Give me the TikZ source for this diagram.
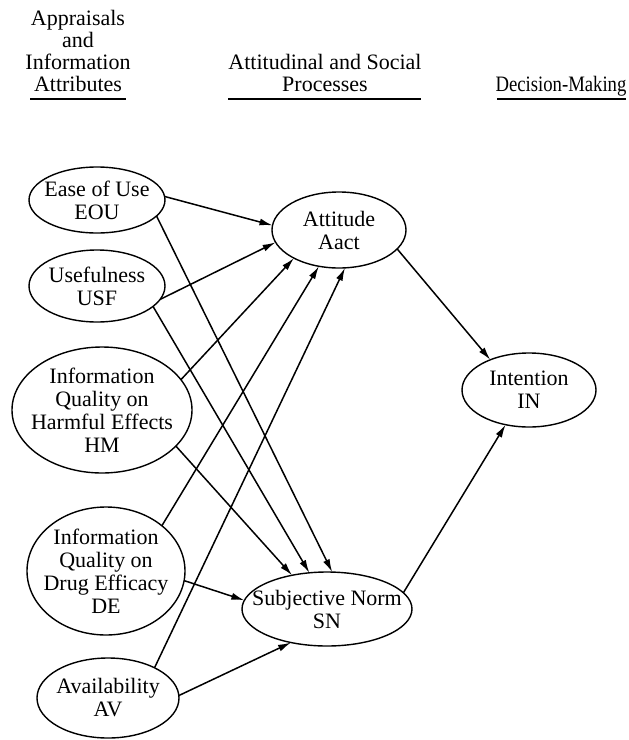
\documentclass[tikz,border=0pt]{standalone}
\usepackage{fontspec}
\setmainfont{Liberation Serif}
\usetikzlibrary{shapes.geometric,arrows.meta}
\begin{document}
\begin{tikzpicture}[x=1pt,y=-1pt,
  ell/.style={draw,ellipse,line width=1.4pt,inner sep=0pt,outer sep=0pt},
  lbl/.style={align=center,font=\fontsize{22}{23}\selectfont,inner sep=0pt},
  hdr/.style={align=center,font=\fontsize{22}{22}\selectfont,inner sep=0pt,anchor=south,text depth=5pt},
  arr/.style={line width=1.5pt,-{Latex[length=13pt,width=7pt]}},
  uline/.style={line width=1.3pt}]
\useasboundingbox (0,0) rectangle (629,740);

% headers
\node[hdr] (h1) at (78,97) {Appraisals\\and\\Information\\Attributes};
\node[hdr] (h2) at (325,97) {Attitudinal and Social\\Processes};
\node[hdr] (h3) at (561,97) {\scalebox{0.85}[1]{Decision-Making}};
\draw[uline] (30,99) -- (126,99);
\draw[uline] (228,99) -- (421,99);
\draw[uline] (497,99) -- (626,99);

% ellipses
\node[ell,minimum width=136pt,minimum height=66pt] (eou) at (97,200) {};
\node[lbl] (eout) at (eou) {Ease of Use\\EOU};
\node[ell,minimum width=136pt,minimum height=72pt] (usf) at (97,286) {};
\node[lbl] (usft) at (usf) {Usefulness\\USF};
\node[ell,minimum width=180pt,minimum height=126pt] (hm) at (102,410) {};
\node[lbl] (hmt) at (hm) {Information\\Quality on\\Harmful Effects\\HM};
\node[ell,minimum width=158pt,minimum height=128pt] (de) at (106,571) {};
\node[lbl] (det) at (de) {Information\\Quality on\\Drug Efficacy\\DE};
\node[ell,minimum width=142pt,minimum height=80pt] (av) at (108,698) {};
\node[lbl] (avt) at (av) {Availability\\AV};
\node[ell,minimum width=134pt,minimum height=76pt] (att) at (339,230) {};
\node[lbl] (attt) at (att) {Attitude\\Aact};
\node[ell,minimum width=170pt,minimum height=74pt] (sn) at (327,609) {};
\node[lbl] (snt) at (sn) {Subjective Norm\\SN};
\node[ell,minimum width=134pt,minimum height=74pt] (int) at (529,390) {};
\node[lbl] (intt) at (int) {Intention\\IN};

% connectors
\draw[arr] (eou.3) -- (att.176);
\draw[arr] (eou.-15) -- (sn.82);
\draw[arr] (usf.-12) -- (att.191);
\draw[arr] (usf.-20) -- (sn.116);
\draw[arr] (hm.21) -- (att.212);
\draw[arr] (hm.-26) -- (sn.136);
\draw[arr] (de.39) -- (att.241);
\draw[arr] (de.-7) -- (sn.174);
\draw[arr] (av.33) -- (att.279);
\draw[arr] (av.2) -- (sn.223);
\draw[arr] (att.-18) -- (int.142);
\draw[arr] (sn.12) -- (int.236);
\end{tikzpicture}
\end{document}
